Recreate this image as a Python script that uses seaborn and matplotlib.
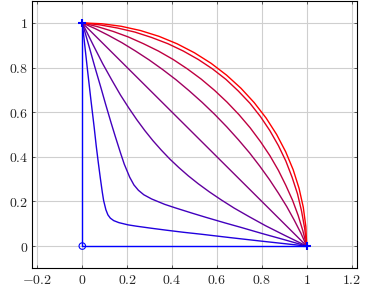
import matplotlib
matplotlib.use('Agg')
import pandas as pd
import seaborn as sns
import matplotlib.pyplot as plt
from matplotlib.ticker import FixedLocator, FuncFormatter

# upper half of each curve, from (0, 1) down to the diagonal y = x
# (the picture is symmetric about y = x, the lower half is the mirror)
c1_x = [0, 0.023, 0.038, 0.053, 0.062, 0.071, 0.080, 0.089, 0.095, 0.105, 0.114, 0.125]
c1_y = [1, 0.790, 0.658, 0.531, 0.449, 0.376, 0.307, 0.242, 0.204, 0.163, 0.140, 0.125]
c2_x = [0, 0.032, 0.056, 0.084, 0.104, 0.129, 0.147, 0.171, 0.187, 0.211, 0.230, 0.250]
c2_y = [1, 0.888, 0.802, 0.706, 0.635, 0.550, 0.491, 0.415, 0.367, 0.309, 0.274, 0.250]
c3_x = [0, 0.048, 0.091, 0.132, 0.170, 0.207, 0.243, 0.279, 0.315, 0.352, 0.390]
c3_y = [1, 0.902, 0.817, 0.743, 0.677, 0.619, 0.566, 0.517, 0.472, 0.430, 0.390]
c4_x = [0, 0.5]
c4_y = [1, 0.5]
c5_x = [0, 0.058, 0.117, 0.177, 0.237, 0.298, 0.358, 0.418, 0.476, 0.534, 0.590]
c5_y = [1, 0.974, 0.944, 0.911, 0.874, 0.834, 0.791, 0.745, 0.696, 0.644, 0.590]
c6_x = [0, 0.068, 0.137, 0.205, 0.272, 0.339, 0.405, 0.468, 0.530, 0.589, 0.645]
c6_y = [1, 0.983, 0.962, 0.937, 0.907, 0.874, 0.836, 0.794, 0.748, 0.698, 0.645]
c7_x = [0, 0.079, 0.157, 0.234, 0.308, 0.381, 0.450, 0.517, 0.580, 0.640, 0.695]
c7_y = [1, 0.991, 0.977, 0.959, 0.935, 0.907, 0.874, 0.836, 0.794, 0.747, 0.695]
c8_x = [0, 0.0872, 0.1736, 0.2588, 0.3420, 0.4226, 0.5000, 0.5736, 0.6428, 0.7071]
c8_y = [1, 0.9962, 0.9848, 0.9659, 0.9397, 0.9063, 0.8660, 0.8192, 0.7660, 0.7071]

# control polygon
poly_x = [0, 0, 1]
poly_y = [1, 0, 0]

halves = [(c1_x, c1_y), (c2_x, c2_y), (c3_x, c3_y), (c4_x, c4_y),
          (c5_x, c5_y), (c6_x, c6_y), (c7_x, c7_y), (c8_x, c8_y)]
red_share = [1/8, 2/8, 3/8, 4/8, 5/8, 6/8, 7/8, 1.0]

x_ticks = [-0.2, 0, 0.2, 0.4, 0.6, 0.8, 1, 1.2]
y_ticks = [0, 0.2, 0.4, 0.6, 0.8, 1]

rows = []
for k, (hx, hy) in enumerate(halves):
    xs = list(hx) + list(hy[::-1][1:])
    ys = list(hy) + list(hx[::-1][1:])
    for j in range(len(xs)):
        rows.append({'curve': k, 'order': j, 'x': xs[j], 'y': ys[j]})
df = pd.DataFrame(rows)
pal = {k: (r, 0, 1 - r) for k, r in enumerate(red_share)}

sns.set_style('whitegrid')
plt.rcParams['mathtext.fontset'] = 'cm'
plt.rcParams['font.family'] = ['DejaVu Serif']

fig = plt.figure(figsize=(3.68, 2.93), dpi=100)
ax = fig.add_axes([0.0878, 0.084, 0.8815, 0.914])

sns.lineplot(data=df, x='x', y='y', hue='curve', units='curve', estimator=None,
             sort=False, palette=pal, lw=1.0, legend=False, ax=ax)
sns.lineplot(x=poly_x, y=poly_y, sort=False, estimator=None, color='#0000ff',
             lw=1.0, ax=ax)
sns.scatterplot(x=[poly_x[0], poly_x[2]], y=[poly_y[0], poly_y[2]], marker='+',
                color='#0000ff', s=40, linewidth=1.5, zorder=5, ax=ax)
sns.scatterplot(x=[poly_x[1]], y=[poly_y[1]], marker='o', facecolor='none',
                edgecolor='#0000ff', s=22, linewidth=0.8, zorder=5, ax=ax)

ax.set_xlim(-0.2228, 1.2228)
ax.set_ylim(-0.1, 1.1)
ax.xaxis.set_major_locator(FixedLocator(x_ticks))
ax.yaxis.set_major_locator(FixedLocator(y_ticks))
fmt = FuncFormatter(lambda v, p: '$%g$' % v)
ax.xaxis.set_major_formatter(fmt)
ax.yaxis.set_major_formatter(fmt)
ax.set_xlabel('')
ax.set_ylabel('')
ax.grid(True, color='#cfcfcf', lw=0.8)
for s in ax.spines.values():
    s.set_color('black')
    s.set_linewidth(0.8)
ax.tick_params(direction='in', length=2.5, width=0.6, color='#444444',
               top=True, right=True, bottom=True, left=True,
               labelsize=10, pad=3)

fig.savefig('out.png', dpi=100)
